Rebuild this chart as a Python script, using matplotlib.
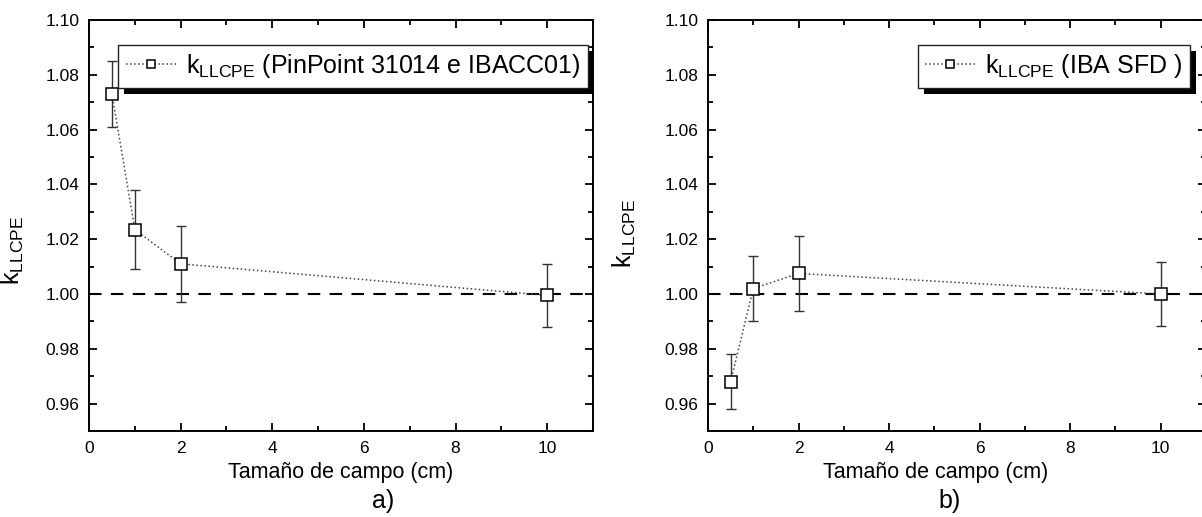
import matplotlib
matplotlib.use("Agg")
import matplotlib.pyplot as plt
from matplotlib.patches import Rectangle
from matplotlib.ticker import MultipleLocator, FormatStrFormatter

plt.rcParams['font.family'] = ['Liberation Sans', 'DejaVu Sans']
plt.rcParams['mathtext.fontset'] = 'custom'
plt.rcParams['mathtext.rm'] = 'Liberation Sans'

# field sizes (cm)
campo = [0.5, 1, 2, 10]

# a) PinPoint 31014 e IBACC01
k_a = [1.073, 1.0235, 1.011, 0.9995]
err_a = [0.012, 0.0145, 0.014, 0.0115]

# b) IBA SFD
k_b = [0.968, 1.002, 1.0075, 1.000]
err_b = [0.010, 0.012, 0.0138, 0.0118]

labels = [r"k$_{\mathregular{LLCPE}}$ (PinPoint 31014 e IBACC01)",
          r"k$_{\mathregular{LLCPE}}$ (IBA SFD )"]
panel_tags = ["a)", "b)"]

fig = plt.figure(figsize=(12.02, 5.17), dpi=100)
W, H = 1202, 517
ax_a = fig.add_axes([89 / W, 86 / H, 504 / W, 411 / H])
ax_b = fig.add_axes([708 / W, 86 / H, 498 / W, 411 / H])


def draw_panel(ax, y, err, label, tag, leg_right, xlab_x, tag_x, ylab_x, ylab_y):
    ax.errorbar(campo, y, yerr=err, fmt='none', ecolor='#333333',
                elinewidth=1.0, capsize=3.5, capthick=1.0, zorder=2)
    ax.plot(campo, y, linestyle=':', color='#444444', linewidth=1.1,
            marker='s', markersize=8, markerfacecolor='white',
            markeredgecolor='black', markeredgewidth=1.1, label=label,
            zorder=3)
    ax.axhline(1.0, color='black', linewidth=1.5, dashes=(6, 4.5), zorder=1)

    ax.set_xlim(0, 11)
    ax.set_ylim(0.95, 1.10)
    ax.xaxis.set_major_locator(MultipleLocator(2))
    ax.xaxis.set_minor_locator(MultipleLocator(1))
    ax.yaxis.set_major_locator(MultipleLocator(0.02))
    ax.yaxis.set_minor_locator(MultipleLocator(0.01))
    ax.yaxis.set_major_formatter(FormatStrFormatter('%.2f'))
    ax.tick_params(which='both', direction='in', top=True, right=True,
                   width=1.3, labelsize=12.5, pad=7)
    ax.tick_params(which='major', length=6)
    ax.tick_params(which='minor', length=3.5)
    for sp in ax.spines.values():
        sp.set_linewidth(1.4)

    ax.set_xlabel("Tamaño de campo (cm)", fontsize=15.5)
    ax.xaxis.set_label_coords(xlab_x, -0.075)
    ax.set_ylabel(r"k$_{\mathregular{LLCPE}}$", fontsize=18)
    ax.yaxis.set_label_coords(ylab_x, ylab_y)
    ax.text(tag_x, -0.17, tag, transform=ax.transAxes, fontsize=18,
            ha='center', va='center')

    leg = ax.legend(loc='upper right', bbox_to_anchor=(leg_right, 0.94),
                    borderaxespad=0, fontsize=18, frameon=True,
                    fancybox=False, handlelength=2.0, handletextpad=0.4,
                    borderpad=0.3, markerscale=0.7)
    leg.get_frame().set_edgecolor('#222222')
    leg.get_frame().set_linewidth(1.0)
    leg.get_frame().set_alpha(1)
    return leg


legs = [
    draw_panel(ax_a, k_a, err_a, labels[0], panel_tags[0], 0.99, 0.5, 0.583, -0.125, 0.44),
    draw_panel(ax_b, k_b, err_b, labels[1], panel_tags[1], 0.968, 0.458, 0.486, -0.14, 0.48),
]

# solid offset shadow behind each legend box
fig.canvas.draw()
for ax, leg in zip([ax_a, ax_b], legs):
    bb = leg.get_window_extent()
    shadow = Rectangle((bb.x0 + 6, bb.y0 - 6), bb.width, bb.height,
                       transform=None, facecolor='black', edgecolor='none',
                       zorder=4.9, clip_on=False)
    ax.add_artist(shadow)

fig.savefig("out.png", dpi=100)
